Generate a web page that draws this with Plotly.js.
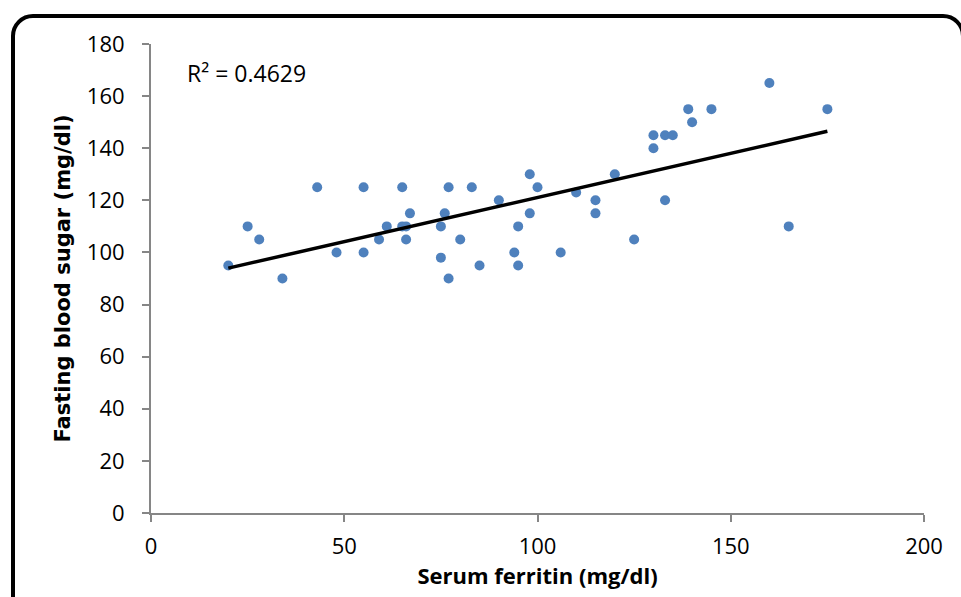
<!DOCTYPE html>
<html>
<head>
<meta charset="utf-8">
<script src="https://cdn.plot.ly/plotly-3.0.1.min.js"></script>
<style>
  html, body { margin:0; padding:0; width:961px; height:597px; overflow:hidden; background:#fff; }
  #frame { position:absolute; left:11px; top:14px; width:954px; height:620px; box-sizing:border-box;
           border:4px solid #000; border-radius:22px; }
  #chart { position:absolute; left:0; top:0; width:961px; height:597px; }
</style>
</head>
<body>
<div id="frame"></div>
<div id="chart"></div>
<script>
// Serum ferritin (mg/dl)
const ferritin = [20, 25, 28, 34, 43, 48, 55, 55, 59, 61, 65, 65, 66, 66, 67, 75, 75, 76, 77, 77,
                  80, 83, 85, 90, 94, 95, 95, 98, 98, 100, 106, 110, 115, 115, 120, 125, 130, 130,
                  133, 133, 135, 139, 140, 145, 160, 165, 175];
// Fasting blood sugar (mg/dl)
const sugar    = [95, 110, 105, 90, 125, 100, 125, 100, 105, 110, 110, 125, 110, 105, 115, 110, 98, 115, 125, 90,
                  105, 125, 95, 120, 100, 110, 95, 130, 115, 125, 100, 123, 120, 115, 130, 105, 145, 140,
                  145, 120, 145, 155, 150, 155, 165, 110, 155];
const xTicks = [0, 50, 100, 150, 200];
const yTicks = [0, 20, 40, 60, 80, 100, 120, 140, 160, 180];
const rSquaredLabel = "R² = 0.4629";

// least-squares linear trendline
const n = ferritin.length;
const mx = ferritin.reduce((a,b)=>a+b,0)/n;
const my = sugar.reduce((a,b)=>a+b,0)/n;
let sxy = 0, sxx = 0;
for (let i=0;i<n;i++){ sxy += (ferritin[i]-mx)*(sugar[i]-my); sxx += (ferritin[i]-mx)**2; }
const slope = sxy/sxx, intercept = my - slope*mx;
const xmin = Math.min(...ferritin), xmax = Math.max(...ferritin);
const trendX = [xmin, xmax];
const trendY = trendX.map(x => intercept + slope*x);

const font = "'Open Sans', 'Noto Sans', sans-serif";
const data = [
  { x: ferritin, y: sugar, type:'scatter', mode:'markers',
    marker:{ color:'#4f81bd', size:10 }, hoverinfo:'skip' },
  { x: trendX, y: trendY, type:'scatter', mode:'lines',
    line:{ color:'#000', width:3.5 }, hoverinfo:'skip' }
];
const axisCommon = {
  showgrid:false, zeroline:false, showline:true, linecolor:'#868686', linewidth:2,
  ticks:'outside', ticklen:7, tickwidth:2, tickcolor:'#868686',
  tickfont:{ family:font, size:22, color:'#000' }, fixedrange:true
};
const layout = {
  width:961, height:597,
  margin:{ l:151, r:37, t:44, b:84 },
  paper_bgcolor:'rgba(0,0,0,0)', plot_bgcolor:'rgba(0,0,0,0)',
  showlegend:false,
  xaxis: Object.assign({}, axisCommon, {
    range:[0,200], tickvals:xTicks, ticktext:xTicks.map(String), ticklabelstandoff:6,
    title:{ text:'Serum ferritin (mg/dl)', font:{ family:font, size:22, color:'#000', weight:'bold' }, standoff:9 }
  }),
  yaxis: Object.assign({}, axisCommon, {
    range:[0,180], tickvals:yTicks, ticktext:yTicks.map(String), ticklabelstandoff:13,
    title:{ text:'Fasting blood sugar (mg/dl)', font:{ family:"'DejaVu Sans', sans-serif", size:21, color:'#000', weight:'bold' }, standoff:10 }
  }),
  annotations:[{
    x:8.8, y:169, xref:'x', yref:'y', xanchor:'left', yanchor:'middle',
    text:rSquaredLabel, showarrow:false, font:{ family:font, size:23, color:'#000' }
  }]
};
Plotly.newPlot('chart', data, layout, { staticPlot:true, displayModeBar:false });
</script>
</body>
</html>
